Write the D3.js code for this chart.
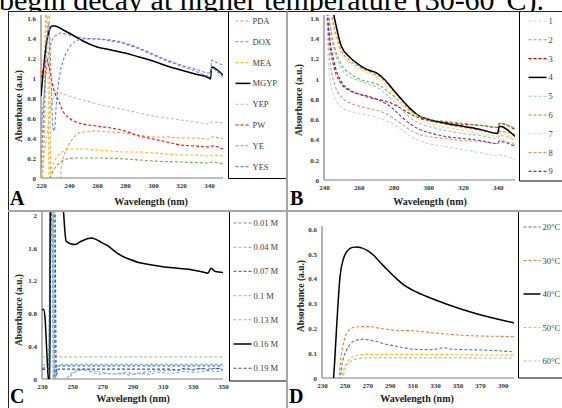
<!DOCTYPE html>
<html>
<head>
<meta charset="utf-8">
<script src="https://cdn.jsdelivr.net/npm/d3@7"></script>
<style>
body { margin: 0; background: #fff; }
svg { display: block; }
</style>
</head>
<body>
<div id="chart"></div>
<script>
var WIDTH = 562, HEIGHT = 408;

// ---------- panel A : media ----------
var aNames = ["PDA", "DOX", "MEA", "MGYP", "YEP", "PW", "YE", "YES"];
var aColors = ["#f39a5c", "#9370db", "#ffc000", "#000000", "#bfbfbf", "#ff0000", "#70ad47", "#5b8bd5"];
var aXTicks = [220, 240, 260, 280, 300, 320, 340];
var aYTicks = [0, 0.2, 0.4, 0.6, 0.8, 1, 1.2, 1.4, 1.6];
var aPDA = [[221, 0], [223, 0.8], [224, 1.8], [225.5, 1.8], [226.5, 0.5], [227, -0.1], [233.5, -0.1], [234.5, 0.1], [238, 0.28], [242, 0.38], [246, 0.44], [250, 0.46], [260, 0.47], [270, 0.46], [280, 0.45], [290, 0.43], [300, 0.41], [310, 0.41], [320, 0.4], [330, 0.4], [340, 0.39], [342, 0.41], [350, 0.39]];
var aDOX = [[220, 0.48], [222, 0.8], [224, 1.1], [226, 1.28], [228, 1.38], [231, 1.43], [234, 1.45], [240, 1.43], [250, 1.4], [260, 1.39], [270, 1.38], [280, 1.35], [290, 1.3], [300, 1.24], [310, 1.18], [320, 1.13], [330, 1.09], [340, 1.05], [341, 1.05], [342, 1.18], [346, 1.15], [350, 1.13]];
var aMEA = [[221, 0], [222.5, 1.0], [223.5, 1.8], [224.5, 1.8], [225.5, 0.2], [226, -0.05], [227, 0.05], [229, 0.15], [232, 0.22], [236, 0.27], [242, 0.29], [250, 0.29], [260, 0.28], [270, 0.27], [280, 0.26], [290, 0.26], [300, 0.25], [310, 0.24], [320, 0.23], [330, 0.23], [340, 0.22], [342, 0.23], [350, 0.22]];
var aMGYP = [[220, 0.82], [222, 1.12], [224, 1.36], [226, 1.48], [228, 1.52], [230, 1.52], [232, 1.51], [236, 1.48], [240, 1.45], [245, 1.41], [250, 1.37], [260, 1.31], [270, 1.28], [280, 1.25], [290, 1.21], [300, 1.17], [310, 1.12], [320, 1.08], [330, 1.04], [340, 1.0], [341, 0.99], [342, 1.11], [346, 1.08], [350, 1.03]];
var aYEP = [[220, 0], [223, 0.3], [226, 0.62], [229, 0.8], [232, 0.86], [236, 0.84], [240, 0.82], [250, 0.78], [260, 0.74], [270, 0.71], [280, 0.68], [290, 0.65], [300, 0.62], [310, 0.6], [320, 0.58], [330, 0.56], [340, 0.54], [342, 0.56], [350, 0.55]];
var aPW = [[220, 1.0], [222, 1.12], [224, 1.19], [226, 1.1], [228, 0.95], [230, 0.85], [233, 0.76], [236, 0.66], [240, 0.6], [245, 0.56], [250, 0.54], [260, 0.52], [270, 0.5], [280, 0.47], [290, 0.42], [300, 0.39], [310, 0.36], [320, 0.33], [330, 0.32], [340, 0.31], [342, 0.32], [350, 0.29]];
var aYE = [[225, -0.05], [227, 0.02], [230, 0.1], [234, 0.16], [238, 0.19], [245, 0.2], [260, 0.2], [280, 0.19], [300, 0.17], [320, 0.16], [340, 0.15], [342, 0.16], [350, 0.14]];
var aYES = [[220, 0.1], [222, 0.7], [224, 1.3], [225.5, 1.55], [227, 1.1], [228.5, 0.5], [229.5, 0.47], [231, 0.75], [233, 1.0], [236, 1.18], [240, 1.3], [245, 1.37], [250, 1.39], [260, 1.39], [270, 1.37], [280, 1.34], [290, 1.29], [300, 1.23], [310, 1.17], [320, 1.12], [330, 1.07], [340, 1.02], [341, 1.02], [342, 1.1], [346, 1.06], [350, 1.01]];

// ---------- panel B : samples 1-9 ----------
var bNames = ["1", "2", "3", "4", "5", "6", "7", "8", "9"];
var bColors = ["#bdd7ee", "#ed7d31", "#c00000", "#000000", "#9dc3e6", "#70ad47", "#ffd966", "#d29b6e", "#7030a0"];
var bXTicks = [240, 260, 280, 300, 320, 340];
var bYTicks = [0, 0.2, 0.4, 0.6, 0.8, 1, 1.2, 1.4, 1.6];
var bWave = [241, 243, 246, 250, 255, 260, 265, 270, 275, 280, 285, 290, 295, 300, 310, 320, 330, 340, 341, 350];
var b1 = [1.9, 1.05, 0.82, 0.72, 0.68, 0.66, 0.64, 0.62, 0.59, 0.55, 0.49, 0.43, 0.39, 0.36, 0.33, 0.3, 0.27, 0.24, 0.25, 0.2];
var b2 = [1.9, 1.75, 1.5, 1.28, 1.18, 1.12, 1.08, 1.04, 0.98, 0.88, 0.78, 0.69, 0.63, 0.59, 0.55, 0.52, 0.49, 0.46, 0.48, 0.45];
var b3 = [1.9, 1.45, 1.15, 0.97, 0.89, 0.85, 0.82, 0.8, 0.78, 0.75, 0.7, 0.65, 0.61, 0.59, 0.57, 0.55, 0.54, 0.52, 0.56, 0.5];
var b4 = [1.9, 1.85, 1.6, 1.32, 1.21, 1.14, 1.09, 1.06, 0.99, 0.89, 0.79, 0.7, 0.63, 0.6, 0.56, 0.53, 0.5, 0.46, 0.53, 0.43];
var b5 = [1.9, 1.55, 1.28, 1.1, 1.02, 0.98, 0.95, 0.92, 0.86, 0.78, 0.69, 0.61, 0.56, 0.53, 0.49, 0.46, 0.44, 0.41, 0.44, 0.39];
var b6 = [1.9, 1.6, 1.32, 1.14, 1.05, 1.0, 0.97, 0.95, 0.9, 0.83, 0.75, 0.68, 0.63, 0.6, 0.58, 0.56, 0.54, 0.52, 0.56, 0.51];
var b7 = [1.9, 1.7, 1.45, 1.25, 1.16, 1.1, 1.06, 1.02, 0.95, 0.85, 0.75, 0.66, 0.6, 0.56, 0.52, 0.49, 0.46, 0.43, 0.46, 0.41];
var b8 = [1.9, 1.25, 0.95, 0.82, 0.76, 0.73, 0.71, 0.69, 0.66, 0.61, 0.55, 0.49, 0.45, 0.43, 0.41, 0.39, 0.38, 0.36, 0.39, 0.35];
var b9 = [1.9, 1.4, 1.1, 0.95, 0.88, 0.85, 0.83, 0.8, 0.76, 0.7, 0.62, 0.55, 0.5, 0.47, 0.43, 0.41, 0.39, 0.36, 0.38, 0.33];

// ---------- panel C : concentration ----------
var cNames = ["0.01 M", "0.04 M", "0.07 M", "0.1 M", "0.13 M", "0.16 M", "0.19 M"];
var cColors = ["#5b9bd5", "#a5a5a5", "#4472c4", "#a9d18e", "#8faadc", "#000000", "#2f5597"];
var cXTicks = [230, 250, 270, 290, 310, 330, 350];
var cYTicks = [0, 0.4, 0.8, 1.2, 1.6, 2];
var c001 = [[230, 0.17], [234.5, 0.17], [235.5, 2.5], [236.5, 2.5], [237.5, -0.05], [238.5, 0.12], [240, 0.17], [250, 0.18], [270, 0.18], [300, 0.18], [330, 0.18], [350, 0.18]];
var c004 = [[230, 0.14], [234.5, 0.14], [235.8, 2.5], [237, 2.5], [238.2, -0.05], [244, -0.02], [248, 0.04], [252, 0.1], [256, 0.11], [262, 0.09], [268, 0.06], [274, 0.07], [280, 0.06], [286, 0.08], [292, 0.06], [300, 0.09], [310, 0.1], [320, 0.11], [330, 0.12], [340, 0.13], [350, 0.13]];
var c007 = [[230, 0.12], [234.5, 0.12], [236, 2.5], [237.5, 2.5], [238.8, -0.05], [239.5, 0.1], [241, 0.16], [260, 0.16], [300, 0.16], [350, 0.16]];
var c010 = [[230, 0.27], [235, 0.27], [236.2, 2.5], [237, 2.5], [237.8, 0.27], [350, 0.27]];
var c013 = [[230, 0.12], [234.5, 0.12], [236.5, 2.5], [238, 2.5], [239.2, -0.05], [246, -0.03], [250, 0.06], [254, 0.1], [259, 0.12], [264, 0.1], [270, 0.08], [276, 0.06], [282, 0.07], [288, 0.05], [294, 0.07], [300, 0.06], [308, 0.08], [316, 0.07], [324, 0.09], [332, 0.08], [340, 0.1], [346, 0.09], [350, 0.1]];
var c016 = [[230, 0.84], [231, 0.85], [232, 0.75], [233, 0.4], [234, 0.05], [234.6, -0.05], [235.2, -0.05], [235.6, 2.5], [242, 2.5], [244, 2.1], [246, 1.68], [249, 1.65], [252, 1.64], [256, 1.68], [260, 1.71], [263, 1.72], [266, 1.7], [270, 1.66], [274, 1.62], [278, 1.56], [283, 1.5], [288, 1.46], [294, 1.42], [300, 1.4], [310, 1.37], [320, 1.35], [330, 1.33], [338, 1.3], [340, 1.29], [342, 1.35], [345, 1.31], [350, 1.3]];
var c019 = [[230, 0.12], [234.5, 0.12], [236.8, 2.5], [238.4, 2.5], [239.5, 0.05], [241, 0.12], [260, 0.12], [280, 0.12], [300, 0.12], [315, 0.12], [320, 0.11], [325, 0.13], [330, 0.11], [335, 0.13], [340, 0.11], [345, 0.13], [350, 0.11]];

// ---------- panel D : temperature ----------
var dNames = ["20°C", "30°C", "40°C", "50°C", "60°C"];
var dColors = ["#4472c4", "#ed7d31", "#000000", "#ffc000", "#9dc3e6"];
var dXTicks = [230, 250, 270, 290, 310, 330, 350, 370, 390];
var dYTicks = [0, 0.1, 0.2, 0.3, 0.4, 0.5, 0.6];
var d20 = [[245.5, -0.05], [247, 0.03], [249, 0.08], [252, 0.115], [258, 0.148], [266, 0.156], [275, 0.15], [287, 0.136], [299, 0.125], [311, 0.116], [326, 0.114], [333, 0.118], [338, 0.122], [344, 0.117], [355, 0.114], [370, 0.113], [385, 0.11], [400, 0.105]];
var d30 = [[244.5, -0.05], [245.5, 0.02], [247, 0.09], [249, 0.14], [252, 0.183], [258, 0.203], [265, 0.207], [272, 0.207], [281, 0.2], [296, 0.192], [311, 0.19], [326, 0.183], [340, 0.177], [355, 0.172], [370, 0.169], [385, 0.168], [400, 0.167]];
var d40 = [[239.5, -0.05], [241, 0.05], [243, 0.21], [246, 0.41], [249, 0.48], [253, 0.515], [257, 0.526], [261, 0.528], [265, 0.524], [270, 0.514], [276, 0.493], [281, 0.468], [287, 0.44], [293, 0.413], [302, 0.376], [311, 0.352], [326, 0.322], [340, 0.298], [355, 0.275], [370, 0.255], [385, 0.238], [400, 0.222]];
var d50 = [[247, -0.05], [248.5, 0.02], [252, 0.062], [258, 0.087], [265, 0.094], [275, 0.095], [300, 0.095], [340, 0.094], [370, 0.093], [400, 0.092]];
var d60 = [[248, -0.05], [249.5, 0.02], [255, 0.066], [262, 0.078], [270, 0.081], [300, 0.081], [350, 0.081], [400, 0.08]];

var SERIF = "'Liberation Serif', 'Times New Roman', serif";

var SVG = d3.select("#chart").append("svg")
    .attr("width", WIDTH)
    .attr("height", HEIGHT)
    .style("background", "#fff");

var LAYER_TEXT = SVG.append("g");
var LAYER_PANELS = SVG.append("g");
var LAYER_FRAME = SVG.append("g");

// caption line of the page above, cut by the crop
SVG.append("clipPath").attr("id", "clipCaption").append("rect")
    .attr("x", 0).attr("y", 0).attr("width", WIDTH).attr("height", 11);
LAYER_TEXT.append("g").attr("clip-path", "url(#clipCaption)")
    .append("text")
    .attr("x", -1).attr("y", 10)
    .attr("font-family", SERIF).attr("font-size", 30)
    .text("begin decay at higher temperature (30-60°C).");

/**
 * Draw one spectrum panel: axes, clipped lines, legend box, letter.
 */
function drawPanel(p) {
    var g = LAYER_PANELS.append("g");
    var x = d3.scaleLinear().domain(p.xDomain).range([p.left, p.right]);
    var y = d3.scaleLinear().domain(p.yDomain).range([p.bottom, p.top]);

    var clipId = "clip" + p.letter;
    SVG.append("clipPath").attr("id", clipId).append("rect")
        .attr("x", p.left).attr("y", p.top - 3)
        .attr("width", p.right - p.left).attr("height", p.bottom - p.top + 3);

    var yAxis = g.append("g").attr("transform", "translate(" + p.left + ",0)")
        .call(d3.axisLeft(y).tickValues(p.yTicks).tickSize(0).tickPadding(5).tickFormat(d3.format("~g")));
    var xAxis = g.append("g").attr("transform", "translate(0," + p.bottom + ")")
        .call(d3.axisBottom(x).tickValues(p.xTicks).tickSize(0).tickPadding(5).tickFormat(d3.format("d")));
    [yAxis, xAxis].forEach(function (ax) {
        ax.select(".domain").attr("stroke", "#7f7f7f").attr("stroke-width", 1.2);
        ax.selectAll("text").attr("font-family", SERIF).attr("font-size", 7)
            .attr("font-weight", "bold").attr("fill", "#333");
    });
    xAxis.select(".domain").attr("d", "M" + p.left + ",0H" + p.right);
    yAxis.select(".domain").attr("d", "M0," + (p.top - 3) + "V" + p.bottom);

    var line = d3.line()
        .x(function (d) { return x(d[0]); })
        .y(function (d) { return y(d[1]); })
        .curve(d3.curveMonotoneX);

    var plot = g.append("g").attr("clip-path", "url(#" + clipId + ")");
    p.series.forEach(function (s, i) {
        var solid = p.colors[i] === "#000000";
        plot.append("path").datum(s)
            .attr("d", line)
            .attr("fill", "none")
            .attr("stroke", p.colors[i])
            .attr("stroke-width", solid ? 1.5 : 1.1)
            .attr("stroke-dasharray", solid ? null : "3,2");
    });

    // axis titles
    g.append("text")
        .attr("transform", "translate(" + p.yTitleX + "," + p.yTitleY + ") rotate(-90)")
        .attr("text-anchor", "middle").attr("font-family", SERIF)
        .attr("font-size", 9.5).attr("font-weight", "bold").attr("fill", "#222")
        .text("Absorbance (a.u.)");
    g.append("text")
        .attr("x", p.xTitleX).attr("y", p.xTitleY)
        .attr("text-anchor", "middle").attr("font-family", SERIF)
        .attr("font-size", 10).attr("font-weight", "bold").attr("fill", "#222")
        .text("Wavelength (nm)");

    // legend box (left and bottom edges)
    var lg = g.append("g");
    lg.append("path")
        .attr("d", "M" + p.legLeft + "," + p.legTop + "V" + p.legBottom + "H" + p.legRight)
        .attr("fill", "none").attr("stroke", "#000").attr("stroke-width", 1);
    p.names.forEach(function (n, i) {
        var ly = p.legY0 + i * p.legStep;
        var solid = p.colors[i] === "#000000";
        lg.append("line")
            .attr("x1", p.legLeft + p.legPad).attr("x2", p.legLeft + p.legPad + p.legLine)
            .attr("y1", ly).attr("y2", ly)
            .attr("stroke", p.colors[i])
            .attr("stroke-width", solid ? 1.5 : 1.1)
            .attr("stroke-dasharray", solid ? null : "3,2");
        lg.append("text")
            .attr("x", p.legLeft + p.legPad + p.legLine + 2).attr("y", ly + 3)
            .attr("font-family", SERIF).attr("font-size", 8.5).attr("fill", "#404040")
            .text(n);
    });

    // panel letter
    g.append("text")
        .attr("x", p.letterX).attr("y", p.letterY)
        .attr("font-family", SERIF).attr("font-size", 20).attr("font-weight", "bold")
        .text(p.letter);
}

drawPanel({
    letter: "A", letterX: 10, letterY: 205,
    xDomain: [220, 350], yDomain: [0, 1.6], left: 41, right: 223, top: 18, bottom: 178,
    xTicks: aXTicks, yTicks: aYTicks,
    series: [aPDA, aDOX, aMEA, aMGYP, aYEP, aPW, aYE, aYES], names: aNames, colors: aColors,
    yTitleX: 22, yTitleY: 106, xTitleX: 151, xTitleY: 205,
    legLeft: 228.5, legTop: 11.5, legBottom: 178.5, legRight: 287, legY0: 21, legStep: 20.8, legPad: 7, legLine: 15
});
drawPanel({
    letter: "B", letterX: 290, letterY: 205,
    xDomain: [240, 350], yDomain: [0, 1.6], left: 324, right: 515, top: 18, bottom: 180,
    xTicks: bXTicks, yTicks: bYTicks,
    series: [b1, b2, b3, b4, b5, b6, b7, b8, b9].map(function (vals) {
        return vals.map(function (v, i) { return [bWave[i], v]; });
    }),
    names: bNames, colors: bColors,
    yTitleX: 302, yTitleY: 100, xTitleX: 430, xTitleY: 205,
    legLeft: 519.5, legTop: 11.5, legBottom: 181, legRight: 562, legY0: 21, legStep: 18.8, legPad: 9, legLine: 18
});
drawPanel({
    letter: "C", letterX: 10, letterY: 403,
    xDomain: [230, 350], yDomain: [0, 2], left: 42, right: 223, top: 215, bottom: 379,
    xTicks: cXTicks, yTicks: cYTicks,
    series: [c001, c004, c007, c010, c013, c016, c019], names: cNames, colors: cColors,
    yTitleX: 22, yTitleY: 310, xTitleX: 133, xTitleY: 402,
    legLeft: 229.5, legTop: 211, legBottom: 381, legRight: 287, legY0: 223, legStep: 24.2, legPad: 4, legLine: 18
});
drawPanel({
    letter: "D", letterX: 289, letterY: 403,
    xDomain: [230, 400], yDomain: [0, 0.6], left: 322, right: 514, top: 229, bottom: 378,
    xTicks: dXTicks, yTicks: dYTicks,
    series: [d20, d30, d40, d50, d60], names: dNames, colors: dColors,
    yTitleX: 304, yTitleY: 296, xTitleX: 417, xTitleY: 402,
    legLeft: 518.5, legTop: 211, legBottom: 378, legRight: 562, legY0: 227, legStep: 33.5, legPad: 5, legLine: 17
});

// figure grid lines
LAYER_FRAME.append("path").attr("d", "M8,11.5H562M8.5,11.5V408")
    .attr("fill", "none").attr("stroke", "#222").attr("stroke-width", 1);
LAYER_FRAME.append("path").attr("d", "M287,11.5V408M8,211H562")
    .attr("fill", "none").attr("stroke", "#a6a6a6").attr("stroke-width", 2);
</script>
</body>
</html>
